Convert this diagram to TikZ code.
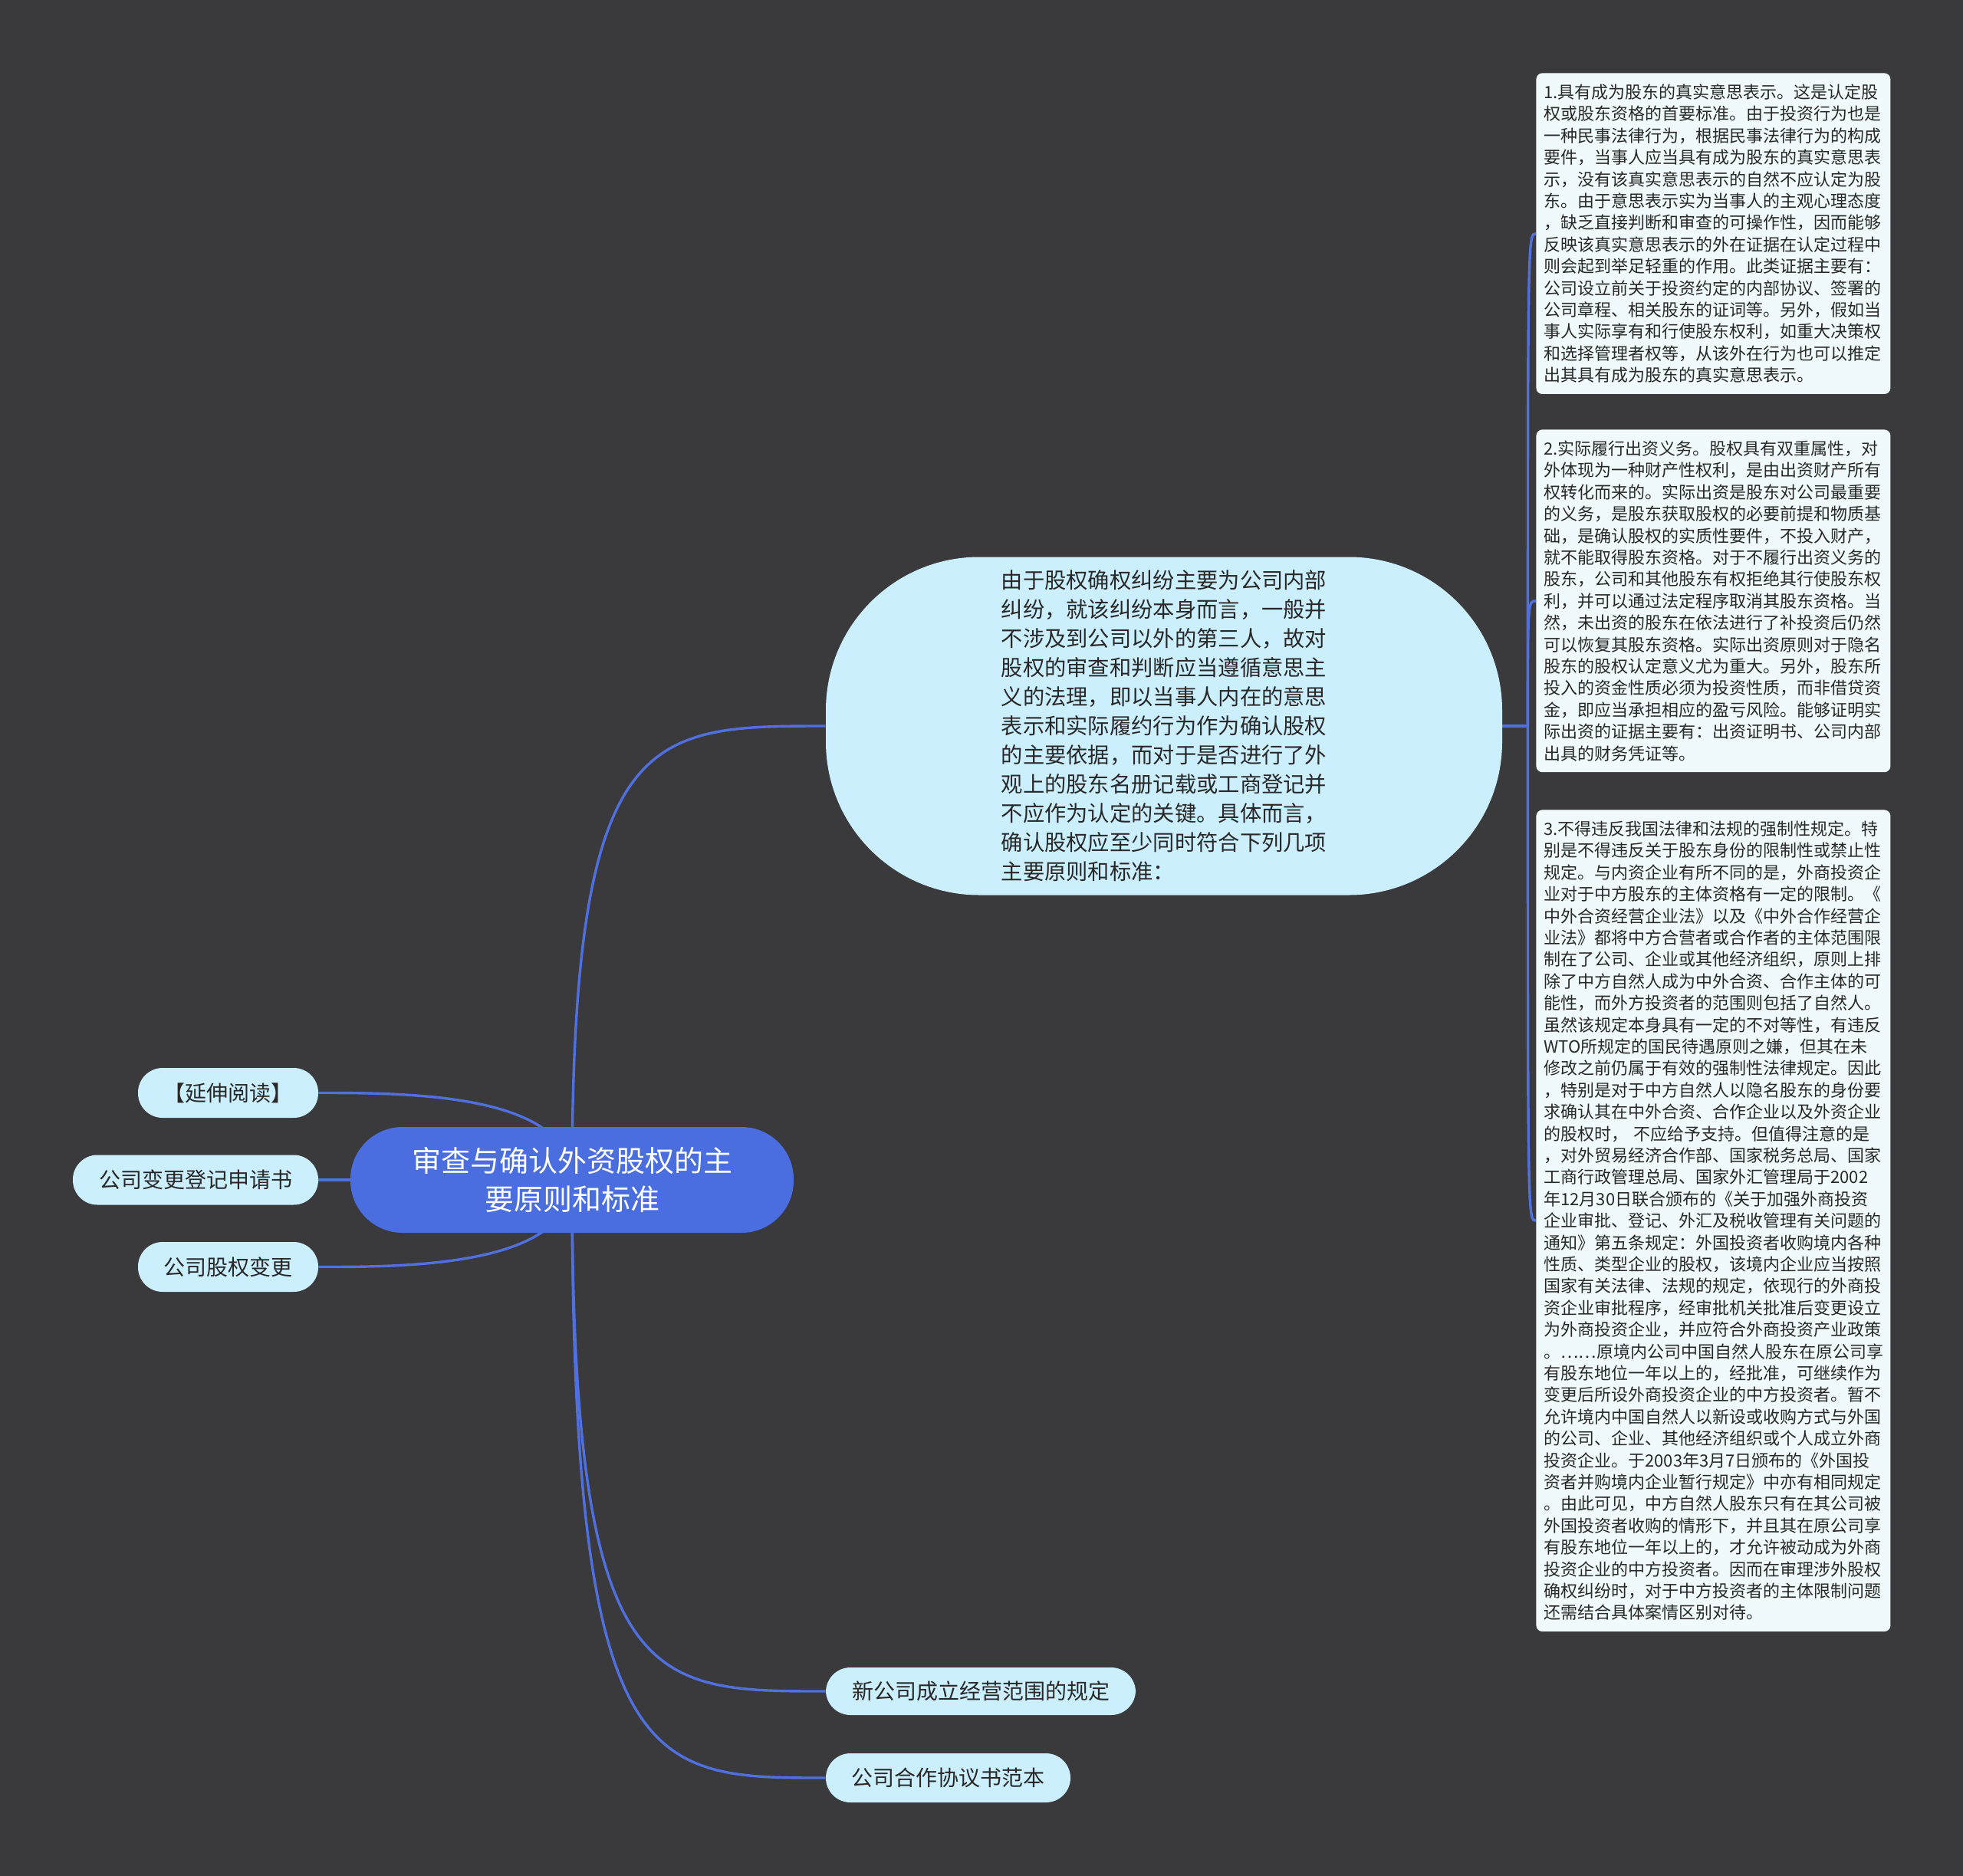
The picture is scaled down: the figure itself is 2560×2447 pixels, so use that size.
\documentclass[tikz,border=0pt]{standalone}
\usepackage{fontspec}
\setmainfont{Noto Sans CJK SC}
\usetikzlibrary{calc,backgrounds}
\definecolor{bg}{RGB}{58,57,60}
\definecolor{rootblue}{RGB}{74,110,224}
\definecolor{lineblue}{RGB}{80,112,224}
\definecolor{lightnode}{RGB}{204,239,253}
\definecolor{boxfill}{RGB}{240,250,253}
\definecolor{txt}{RGB}{40,40,40}
\begin{document}
\begin{tikzpicture}[x=0.5pt,y=-0.5pt,
  conn/.style={draw=lineblue, line width=1.7pt},
  rootnode/.style={fill=rootblue, text=white, rounded corners=34pt, minimum width=289pt, minimum height=69pt, inner sep=0pt, align=center, font=\fontsize{19}{25.3}\selectfont},
  pill/.style={fill=lightnode, text=txt, rounded corners=16pt, inner sep=0pt, minimum height=32.5pt, font=\fontsize{14}{17}\selectfont},
  bignode/.style={fill=lightnode, text=txt, rounded corners=100pt, minimum width=441pt, minimum height=220.5pt, inner sep=0pt, align=left, font=\fontsize{14.15}{19}\selectfont},
  textbox/.style={fill=boxfill, text=txt, rounded corners=4pt, anchor=north west, align=left, text width=221pt, inner xsep=5pt, inner ysep=7.2pt, font=\fontsize{11}{14.2}\selectfont},
]
\useasboundingbox (0,0) rectangle (2560,2447);

\node[rootnode] (root) at (746,1539) {审查与确认外资股权的主\\要原则和标准};

\node[pill, minimum width=117.5pt] (ext) at (297.5,1425.5) {【延伸阅读】};
\node[pill, minimum width=160pt] (reg) at (255,1539) {公司变更登记申请书};
\node[pill, minimum width=117.5pt] (chg) at (297.5,1652.5) {公司股权变更};
\node[pill, minimum width=202pt, minimum height=31pt] (scope) at (1279,2206) {新公司成立经营范围的规定};
\node[pill, minimum width=159.5pt, minimum height=32pt] (coop) at (1236.5,2319) {公司合作协议书范本};

\node[bignode] (big) at (1518,947) {由于股权确权纠纷主要为公司内部\\纠纷，就该纠纷本身而言，一般并\\不涉及到公司以外的第三人，故对\\股权的审查和判断应当遵循意思主\\义的法理，即以当事人内在的意思\\表示和实际履约行为作为确认股权\\的主要依据，而对于是否进行了外\\观上的股东名册记载或工商登记并\\不应作为认定的关键。具体而言，\\确认股权应至少同时符合下列几项\\主要原则和标准：};

\node[textbox] (b1) at (2003,95) {1.具有成为股东的真实意思表示。这是认定股\\权或股东资格的首要标准。由于投资行为也是\\一种民事法律行为，根据民事法律行为的构成\\要件，当事人应当具有成为股东的真实意思表\\示，没有该真实意思表示的自然不应认定为股\\东。由于意思表示实为当事人的主观心理态度\\，缺乏直接判断和审查的可操作性，因而能够\\反映该真实意思表示的外在证据在认定过程中\\则会起到举足轻重的作用。此类证据主要有：\\公司设立前关于投资约定的内部协议、签署的\\公司章程、相关股东的证词等。另外，假如当\\事人实际享有和行使股东权利，如重大决策权\\和选择管理者权等，从该外在行为也可以推定\\出其具有成为股东的真实意思表示。};

\node[textbox] (b2) at (2003,560) {2.实际履行出资义务。股权具有双重属性，对\\外体现为一种财产性权利，是由出资财产所有\\权转化而来的。实际出资是股东对公司最重要\\的义务，是股东获取股权的必要前提和物质基\\础，是确认股权的实质性要件，不投入财产，\\就不能取得股东资格。对于不履行出资义务的\\股东，公司和其他股东有权拒绝其行使股东权\\利，并可以通过法定程序取消其股东资格。当\\然，未出资的股东在依法进行了补投资后仍然\\可以恢复其股东资格。实际出资原则对于隐名\\股东的股权认定意义尤为重大。另外，股东所\\投入的资金性质必须为投资性质，而非借贷资\\金，即应当承担相应的盈亏风险。能够证明实\\际出资的证据主要有：出资证明书、公司内部\\出具的财务凭证等。};

\node[textbox] (b3) at (2003,1056) {3.不得违反我国法律和法规的强制性规定。特\\别是不得违反关于股东身份的限制性或禁止性\\规定。与内资企业有所不同的是，外商投资企\\业对于中方股东的主体资格有一定的限制。《\\中外合资经营企业法》以及《中外合作经营企\\业法》都将中方合营者或合作者的主体范围限\\制在了公司、企业或其他经济组织，原则上排\\除了中方自然人成为中外合资、合作主体的可\\能性，而外方投资者的范围则包括了自然人。\\虽然该规定本身具有一定的不对等性，有违反\\WTO所规定的国民待遇原则之嫌，但其在未\\修改之前仍属于有效的强制性法律规定。因此\\，特别是对于中方自然人以隐名股东的身份要\\求确认其在中外合资、合作企业以及外资企业\\的股权时， 不应给予支持。但值得注意的是\\，对外贸易经济合作部、国家税务总局、国家\\工商行政管理总局、国家外汇管理局于2002\\年12月30日联合颁布的《关于加强外商投资\\企业审批、登记、外汇及税收管理有关问题的\\通知》第五条规定：外国投资者收购境内各种\\性质、类型企业的股权，该境内企业应当按照\\国家有关法律、法规的规定，依现行的外商投\\资企业审批程序，经审批机关批准后变更设立\\为外商投资企业，并应符合外商投资产业政策\\。……原境内公司中国自然人股东在原公司享\\有股东地位一年以上的，经批准，可继续作为\\变更后所设外商投资企业的中方投资者。暂不\\允许境内中国自然人以新设或收购方式与外国\\的公司、企业、其他经济组织或个人成立外商\\投资企业。于2003年3月7日颁布的《外国投\\资者并购境内企业暂行规定》中亦有相同规定\\。由此可见，中方自然人股东只有在其公司被\\外国投资者收购的情形下，并且其在原公司享\\有股东地位一年以上的，才允许被动成为外商\\投资企业的中方投资者。因而在审理涉外股权\\确权纠纷时，对于中方投资者的主体限制问题\\还需结合具体案情区别对待。};

\coordinate (jr) at ($(big.east)+(33,0)$);

\begin{pgfonlayer}{background}
\fill[bg] (0,0) rectangle (2560,2447);
\draw[conn] (root.center) .. controls (root.center |- big.west) and ($(root.center |- big.west)!0.3!(big.west)$) .. (big.west);
\draw[conn] (root.center) .. controls (root.center |- scope.west) and ($(root.center |- scope.west)!0.3!(scope.west)$) .. (scope.west);
\draw[conn] (root.center) .. controls (root.center |- coop.west) and ($(root.center |- coop.west)!0.3!(coop.west)$) .. (coop.west);
\draw[conn] (root.center) .. controls (root.center |- ext.east) and ($(root.center |- ext.east)!0.65!(ext.east)$) .. (ext.east);
\draw[conn] (root.center) .. controls (root.center |- chg.east) and ($(root.center |- chg.east)!0.65!(chg.east)$) .. (chg.east);
\draw[conn] (root.center) -- (reg.east);
\draw[conn] (big.east) -- (jr);
\draw[conn] (jr) .. controls (jr |- b1.west) .. (b1.west);
\draw[conn] (jr) .. controls (jr |- b2.west) .. (b2.west);
\draw[conn] (jr) .. controls (jr |- b3.west) .. (b3.west);
\end{pgfonlayer}
\end{tikzpicture}
\end{document}
